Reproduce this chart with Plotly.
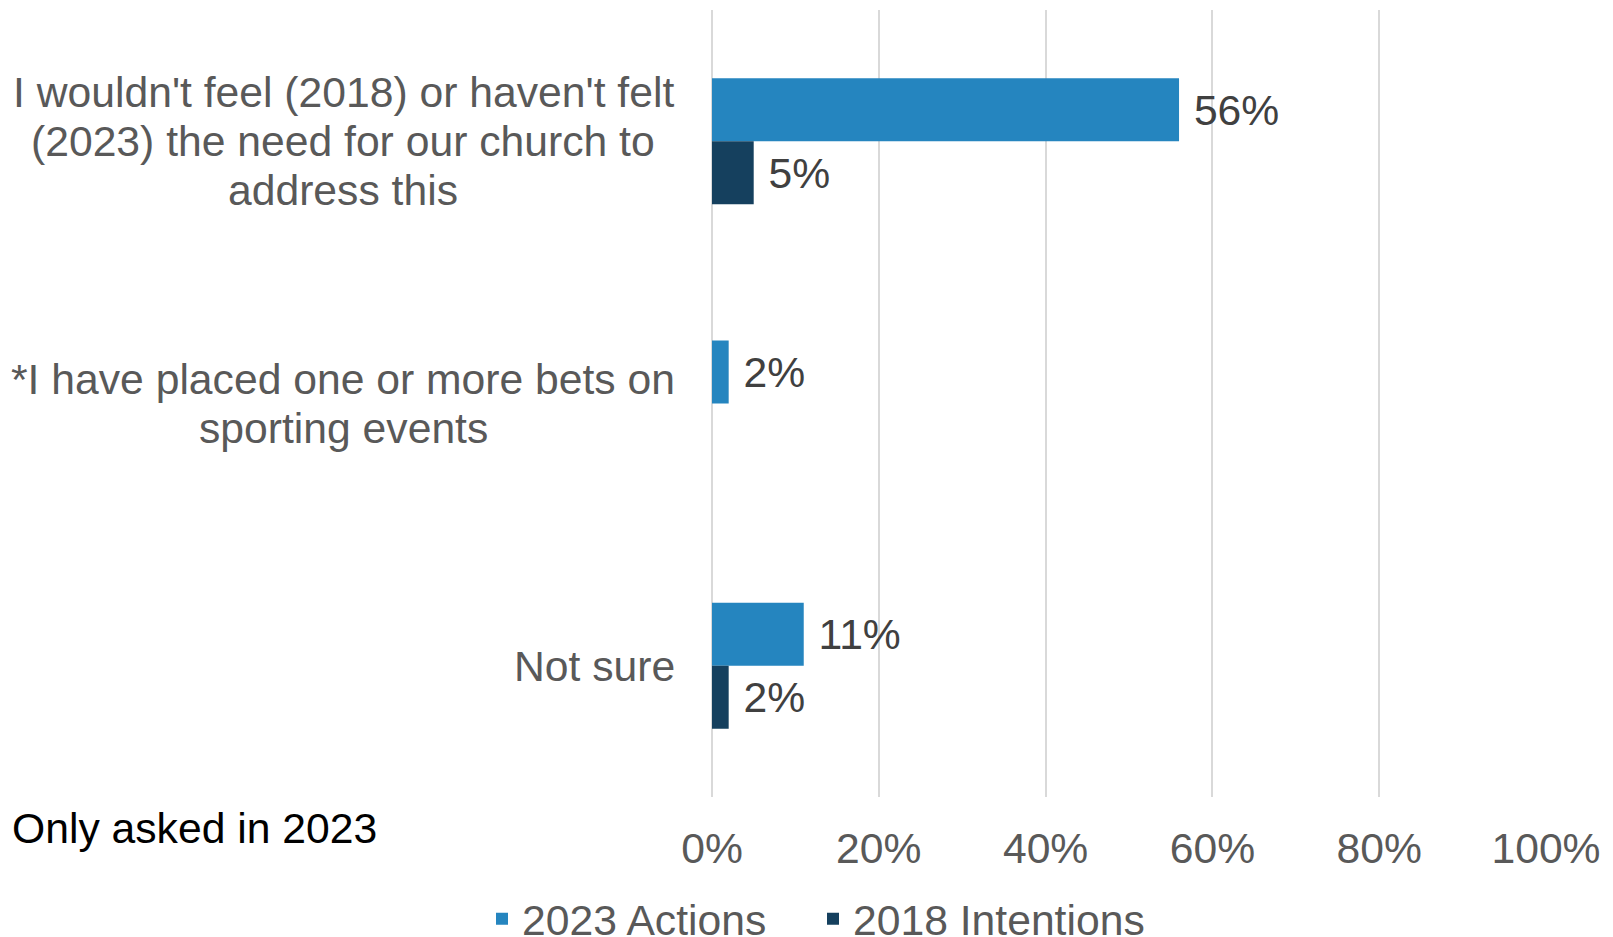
import plotly.graph_objects as go

# Survey responses, share of respondents
categories = [
    "I wouldn't feel (2018) or haven't felt<br>(2023) the need for our church to<br>address this",
    "*I have placed one or more bets on<br>sporting events",
    "Not sure",
]
actions_2023 = [0.56, 0.02, 0.11]
intentions_2018 = [0.05, None, 0.02]
x_ticks = [0, 0.2, 0.4, 0.6, 0.8, 1.0]
x_tick_labels = ["0%", "20%", "40%", "60%", "80%", "100%"]
footnote = "Only asked in 2023"

FONT = "Liberation Sans, Arial, sans-serif"
FS = 42.67
GREY = "#595959"
LABEL = "#404040"
NBSP = "\u00a0"

W, H = 1613, 937
M_L, M_R, M_T, M_B = 712, 67, 10, 140
PLOT_W = W - M_L - M_R
PLOT_H = H - M_T - M_B


def px_to_paper_x(px):
    return (px - M_L) / PLOT_W


def px_to_paper_y(py):
    return (H - M_B - py) / PLOT_H


def labels(values):
    return [None if v is None else f"{NBSP}{round(v * 100)}%" for v in values]


fig = go.Figure()
fig.add_trace(go.Bar(
    name="2023 Actions", y=categories, x=actions_2023, orientation="h",
    marker=dict(color="#2585BF", line=dict(width=0)),
    text=labels(actions_2023), textposition="outside", cliponaxis=False,
    textfont=dict(family=FONT, size=FS, color=LABEL),
))
fig.add_trace(go.Bar(
    name="2018 Intentions", y=categories, x=intentions_2018, orientation="h",
    marker=dict(color="#15405E", line=dict(width=0)),
    text=labels(intentions_2018), textposition="outside", cliponaxis=False,
    textfont=dict(family=FONT, size=FS, color=LABEL),
))

# Category labels: each block sits flush right against the plot,
# and the lines of a wrapped label are centred within their block.
annotations = []
line_step = 49
label_right = 677
wrapped_centre = 343
for cat in categories:
    lines = cat.split("<br>")
    mid = (len(lines) - 1) / 2
    for i, line in enumerate(lines):
        if len(lines) == 1:
            x, anchor = px_to_paper_x(label_right), "right"
        else:
            x, anchor = px_to_paper_x(wrapped_centre), "center"
        annotations.append(dict(
            text=line, xref="paper", yref="y", x=x, y=cat,
            xanchor=anchor, yanchor="middle", showarrow=False,
            yshift=(mid - i) * line_step,
            font=dict(family=FONT, size=FS, color=GREY),
        ))
annotations.append(dict(
    text=footnote, xref="paper", yref="paper",
    x=px_to_paper_x(10), y=px_to_paper_y(828),
    xanchor="left", yanchor="middle", showarrow=False,
    font=dict(family=FONT, size=FS, color="#000000"),
))

fig.update_layout(
    width=W, height=H,
    margin=dict(l=M_L, r=M_R, t=M_T, b=M_B),
    paper_bgcolor="white", plot_bgcolor="white",
    barmode="group", bargap=0.52, bargroupgap=0,
    font=dict(family=FONT, size=FS, color=GREY),
    showlegend=True,
    legend=dict(
        orientation="h", xref="container", yref="container",
        x=482 / W, y=1 - 919 / H, xanchor="left", yanchor="middle",
        entrywidth=286, entrywidthmode="pixels",
        font=dict(family=FONT, size=FS, color=GREY), traceorder="normal",
    ),
    xaxis=dict(
        range=[0, 1], tickvals=x_ticks, ticktext=x_tick_labels,
        showgrid=True, gridcolor="#D9D9D9", gridwidth=1.5,
        zeroline=True, zerolinecolor="#D9D9D9", zerolinewidth=1.5,
        showline=False, ticks="", ticklabelstandoff=22,
        tickfont=dict(family=FONT, size=FS, color=GREY),
    ),
    yaxis=dict(
        autorange="reversed", showticklabels=False, showgrid=False,
        zeroline=False, showline=False, ticks="",
    ),
    annotations=annotations,
)

fig.write_html("out.html", config={"displayModeBar": False})
